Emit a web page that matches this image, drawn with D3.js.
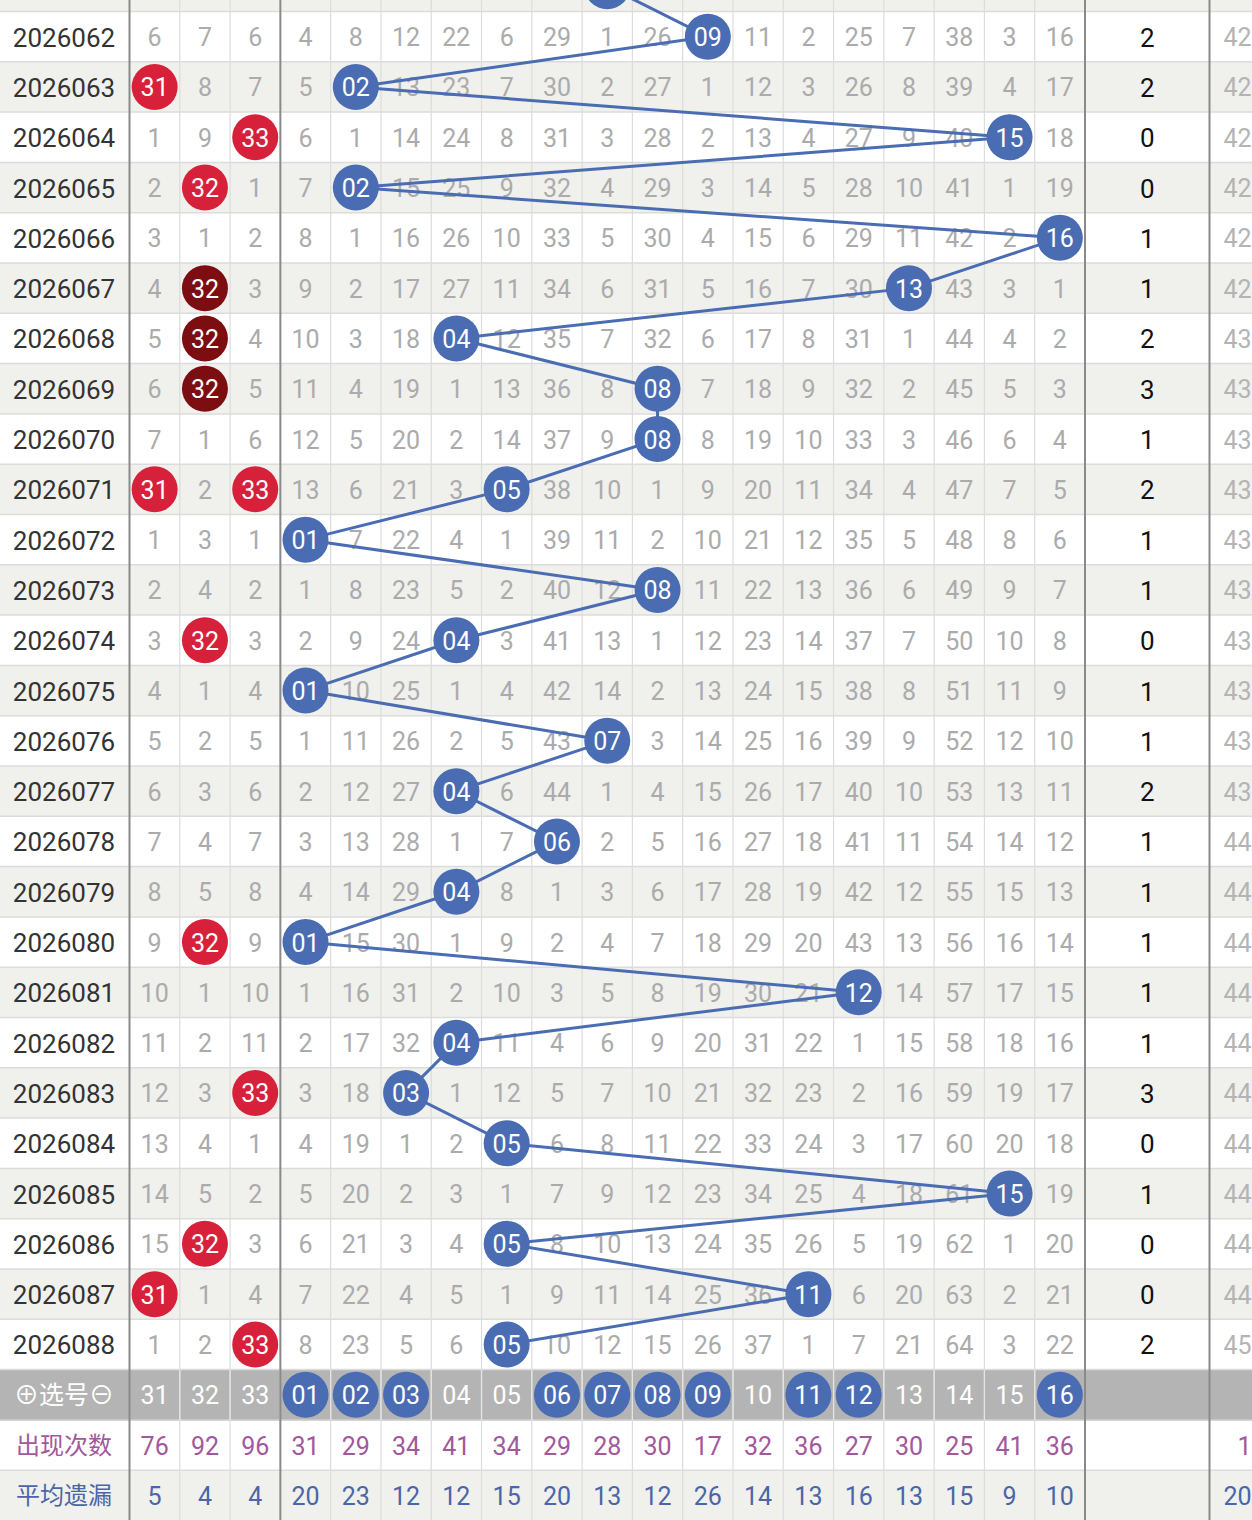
<!DOCTYPE html>
<html lang="zh">
<head>
  <meta charset="UTF-8">
  <title>走势图</title>
  <script src="https://d3js.org/d3.v7.min.js"></script>
  <style>
    html, body { margin: 0; padding: 0; background: #fff; }
    svg { display: block; }
    text { font-family: Roboto, "Noto Sans CJK SC", sans-serif; }
  </style>
</head>
<body>
  <div id="chart"></div>
  <script>
    // 期号（第一行只露出底部一点）
    const periods = ["2026061", "2026062", "2026063", "2026064", "2026065", "2026066", "2026067",
      "2026068", "2026069", "2026070", "2026071", "2026072", "2026073", "2026074", "2026075",
      "2026076", "2026077", "2026078", "2026079", "2026080", "2026081", "2026082", "2026083",
      "2026084", "2026085", "2026086", "2026087", "2026088"];

    const redCols = ["31", "32", "33"];
    const blueCols = ["01", "02", "03", "04", "05", "06", "07", "08", "09", "10", "11", "12", "13", "14", "15", "16"];

    // 遗漏值: 31 32 33 | 01..16, 0 = 开出
    const missRows = [
      [null, null, null, null, null, null, null, null, null, 0, null, null, null, null, null, null, null, null, null],
      [6, 7, 6, 4, 8, 12, 22, 6, 29, 1, 26, 0, 11, 2, 25, 7, 38, 3, 16],
      [0, 8, 7, 5, 0, 13, 23, 7, 30, 2, 27, 1, 12, 3, 26, 8, 39, 4, 17],
      [1, 9, 0, 6, 1, 14, 24, 8, 31, 3, 28, 2, 13, 4, 27, 9, 40, 0, 18],
      [2, 0, 1, 7, 0, 15, 25, 9, 32, 4, 29, 3, 14, 5, 28, 10, 41, 1, 19],
      [3, 1, 2, 8, 1, 16, 26, 10, 33, 5, 30, 4, 15, 6, 29, 11, 42, 2, 0],
      [4, 0, 3, 9, 2, 17, 27, 11, 34, 6, 31, 5, 16, 7, 30, 0, 43, 3, 1],
      [5, 0, 4, 10, 3, 18, 0, 12, 35, 7, 32, 6, 17, 8, 31, 1, 44, 4, 2],
      [6, 0, 5, 11, 4, 19, 1, 13, 36, 8, 0, 7, 18, 9, 32, 2, 45, 5, 3],
      [7, 1, 6, 12, 5, 20, 2, 14, 37, 9, 0, 8, 19, 10, 33, 3, 46, 6, 4],
      [0, 2, 0, 13, 6, 21, 3, 0, 38, 10, 1, 9, 20, 11, 34, 4, 47, 7, 5],
      [1, 3, 1, 0, 7, 22, 4, 1, 39, 11, 2, 10, 21, 12, 35, 5, 48, 8, 6],
      [2, 4, 2, 1, 8, 23, 5, 2, 40, 12, 0, 11, 22, 13, 36, 6, 49, 9, 7],
      [3, 0, 3, 2, 9, 24, 0, 3, 41, 13, 1, 12, 23, 14, 37, 7, 50, 10, 8],
      [4, 1, 4, 0, 10, 25, 1, 4, 42, 14, 2, 13, 24, 15, 38, 8, 51, 11, 9],
      [5, 2, 5, 1, 11, 26, 2, 5, 43, 0, 3, 14, 25, 16, 39, 9, 52, 12, 10],
      [6, 3, 6, 2, 12, 27, 0, 6, 44, 1, 4, 15, 26, 17, 40, 10, 53, 13, 11],
      [7, 4, 7, 3, 13, 28, 1, 7, 0, 2, 5, 16, 27, 18, 41, 11, 54, 14, 12],
      [8, 5, 8, 4, 14, 29, 0, 8, 1, 3, 6, 17, 28, 19, 42, 12, 55, 15, 13],
      [9, 0, 9, 0, 15, 30, 1, 9, 2, 4, 7, 18, 29, 20, 43, 13, 56, 16, 14],
      [10, 1, 10, 1, 16, 31, 2, 10, 3, 5, 8, 19, 30, 21, 0, 14, 57, 17, 15],
      [11, 2, 11, 2, 17, 32, 0, 11, 4, 6, 9, 20, 31, 22, 1, 15, 58, 18, 16],
      [12, 3, 0, 3, 18, 0, 1, 12, 5, 7, 10, 21, 32, 23, 2, 16, 59, 19, 17],
      [13, 4, 1, 4, 19, 1, 2, 0, 6, 8, 11, 22, 33, 24, 3, 17, 60, 20, 18],
      [14, 5, 2, 5, 20, 2, 3, 1, 7, 9, 12, 23, 34, 25, 4, 18, 61, 0, 19],
      [15, 0, 3, 6, 21, 3, 4, 0, 8, 10, 13, 24, 35, 26, 5, 19, 62, 1, 20],
      [0, 1, 4, 7, 22, 4, 5, 1, 9, 11, 14, 25, 36, 0, 6, 20, 63, 2, 21],
      [1, 2, 0, 8, 23, 5, 6, 0, 10, 12, 15, 26, 37, 1, 7, 21, 64, 3, 22]
    ];

    // 连出的红球（深色）
    const darkHits = [["2026067", "32"], ["2026068", "32"], ["2026069", "32"]];

    const repeatCount = [null, 2, 2, 0, 0, 1, 1, 2, 3, 1, 2, 1, 1, 0, 1, 1, 2, 1, 1, 1, 1, 1, 3, 0, 1, 0, 0, 2];
    const rightCol = [null, "42", "42", "42", "42", "42", "42", "43", "43", "43", "43", "43", "43", "43",
      "43", "43", "43", "44", "44", "44", "44", "44", "44", "44", "44", "44", "44", "45"];

    const selectedBlue = ["01", "02", "03", "06", "07", "08", "09", "11", "12", "16"];
    const hitCounts = [76, 92, 96, 31, 29, 34, 41, 34, 29, 28, 30, 17, 32, 36, 27, 30, 25, 41, 36];
    const avgMiss = [5, 4, 4, 20, 23, 12, 12, 15, 20, 13, 12, 26, 14, 13, 16, 13, 15, 9, 10];
    const footRight = { count: "1", avg: "20" };

    const W = 1252, H = 1520;
    const RED = "#d7213a", DARK = "#7c0e12", BLUE = "#4a6cb2";
    const STRIPE = "#f0f0ed", GRID = "#dcdcdc", SEP = "#8a8a8a";

    const allCols = redCols.concat(blueCols);
    const footKeys = ["select", "count", "avg"];
    const rowKeys = periods.concat(footKeys);

    const x = d3.scaleBand().domain(allCols).range([129.5, 1085]);
    const y = d3.scaleBand().domain(rowKeys).range([-38.8, 1520.5]);
    const bw = x.bandwidth(), bh = y.bandwidth();
    const cx = c => x(c) + bw / 2;
    const cy = k => y(k) + bh / 2;
    const ty = k => cy(k) + 1; // 文字略下移
    const visible = k => cy(k) > 0; // 顶部被截掉的行不写字
    const midX = [1085, 1209.5], rightX = [1209.5, 1300];
    const r = 23;

    const svg = d3.select("#chart").append("svg")
      .attr("width", W).attr("height", H);

    // 行底色
    svg.append("g").selectAll("rect")
      .data(rowKeys)
      .join("rect")
      .attr("x", 0).attr("y", d => y(d))
      .attr("width", W).attr("height", bh)
      .attr("fill", (d, i) => d === "select" ? "#b4b4b4" : (i % 2 === 0 ? STRIPE : "#fff"));

    // 网格线
    const grid = svg.append("g");
    grid.selectAll("line.h")
      .data(rowKeys)
      .join("line")
      .attr("x1", 0).attr("x2", W)
      .attr("y1", d => y(d)).attr("y2", d => y(d))
      .attr("stroke", d => d === "count" ? "#c8c8c8" : GRID).attr("stroke-width", 1.5);
    grid.selectAll("line.v")
      .data(allCols.slice(1))
      .join("line")
      .attr("x1", d => x(d)).attr("x2", d => x(d))
      .attr("y1", 0).attr("y2", H)
      .attr("stroke", GRID).attr("stroke-width", 1.2);
    grid.selectAll("line.vs")
      .data(allCols.slice(1))
      .join("line")
      .attr("x1", d => x(d)).attr("x2", d => x(d))
      .attr("y1", y("select")).attr("y2", y("select") + bh)
      .attr("stroke", "#e4e4e4").attr("stroke-width", 1.2);

    // 分隔线
    svg.append("g").selectAll("line")
      .data([129.5, x("01"), midX[0], midX[1]])
      .join("line")
      .attr("x1", d => d).attr("x2", d => d)
      .attr("y1", 0).attr("y2", H)
      .attr("stroke", SEP).attr("stroke-width", 2);

    // 期号
    svg.append("g").selectAll("text")
      .data(periods.filter(visible))
      .join("text")
      .attr("x", 64).attr("y", d => ty(d))
      .attr("text-anchor", "middle").attr("dominant-baseline", "central")
      .attr("font-size", 26).attr("fill", "#333")
      .text(d => d);

    // 遗漏值
    const cells = [];
    missRows.forEach((row, i) => {
      row.forEach((v, j) => {
        cells.push({ period: periods[i], col: allCols[j], v, red: j < 3 });
      });
    });
    svg.append("g").selectAll("text")
      .data(cells.filter(d => d.v !== null && d.v !== 0 && visible(d.period)))
      .join("text")
      .attr("x", d => cx(d.col)).attr("y", d => ty(d.period))
      .attr("text-anchor", "middle").attr("dominant-baseline", "central")
      .attr("font-size", 25).attr("fill", "#ababab")
      .text(d => d.v);

    // 右侧两列
    svg.append("g").selectAll("text")
      .data(periods.map((p, i) => ({ p, v: repeatCount[i] })).filter(d => d.v !== null))
      .join("text")
      .attr("x", (midX[0] + midX[1]) / 2).attr("y", d => ty(d.p))
      .attr("text-anchor", "middle").attr("dominant-baseline", "central")
      .attr("font-size", 26).attr("fill", "#111")
      .text(d => d.v);
    svg.append("g").selectAll("text")
      .data(periods.map((p, i) => ({ p, v: rightCol[i] })).filter(d => d.v !== null))
      .join("text")
      .attr("x", rightX[0] + 14).attr("y", d => ty(d.p))
      .attr("dominant-baseline", "central")
      .attr("font-size", 25).attr("fill", "#b4b4b4")
      .text(d => d.v);

    // 蓝球走势线
    const hits = cells.filter(d => d.v === 0);
    const blueHits = hits.filter(d => !d.red);
    svg.append("path")
      .datum(blueHits)
      .attr("fill", "none")
      .attr("stroke", BLUE).attr("stroke-width", 3)
      .attr("d", d3.line().x(d => cx(d.col)).y(d => cy(d.period)));

    // 球
    const isDark = d => darkHits.some(h => h[0] === d.period && h[1] === d.col);
    const balls = svg.append("g").selectAll("g")
      .data(hits)
      .join("g")
      .attr("transform", d => `translate(${cx(d.col)},${cy(d.period)})`);
    balls.append("circle")
      .attr("r", r)
      .attr("fill", d => d.red ? (isDark(d) ? DARK : RED) : BLUE);
    balls.filter(d => visible(d.period)).append("text")
      .attr("y", 1)
      .attr("text-anchor", "middle").attr("dominant-baseline", "central")
      .attr("font-size", 25).attr("fill", "#fff")
      .text(d => d.col);

    // 底部：选号
    const foot = svg.append("g");
    foot.append("text")
      .attr("x", 64).attr("y", ty("select"))
      .attr("text-anchor", "middle").attr("dominant-baseline", "central")
      .attr("font-size", 25).attr("fill", "#fff")
      .text("⊕选号⊖");
    const selG = foot.selectAll("g.sel")
      .data(allCols)
      .join("g")
      .attr("transform", d => `translate(${cx(d)},${cy("select")})`);
    selG.filter(d => selectedBlue.includes(d))
      .append("circle").attr("r", r).attr("fill", BLUE);
    selG.append("text")
      .attr("y", 1)
      .attr("text-anchor", "middle").attr("dominant-baseline", "central")
      .attr("font-size", 25).attr("fill", "#fff")
      .text(d => d);

    // 出现次数 / 平均遗漏
    const footRows = [
      { key: "count", label: "出现次数", vals: hitCounts, color: "#a2589c", right: footRight.count },
      { key: "avg", label: "平均遗漏", vals: avgMiss, color: "#4a66a8", right: footRight.avg }
    ];
    footRows.forEach(f => {
      foot.append("text")
        .attr("x", 64).attr("y", ty(f.key))
        .attr("text-anchor", "middle").attr("dominant-baseline", "central")
        .attr("font-family", "'Noto Sans CJK SC', sans-serif")
        .attr("font-size", 24).attr("fill", f.color)
        .text(f.label);
      foot.selectAll(null)
        .data(f.vals)
        .join("text")
        .attr("x", (d, i) => cx(allCols[i])).attr("y", ty(f.key))
        .attr("text-anchor", "middle").attr("dominant-baseline", "central")
        .attr("font-size", 25).attr("fill", f.color)
        .text(d => d);
      foot.append("text")
        .attr("x", f.key === "count" ? rightX[0] + 28 : rightX[0] + 14).attr("y", ty(f.key))
        .attr("dominant-baseline", "central")
        .attr("font-size", 25).attr("fill", f.color)
        .text(f.right);
    });
  </script>
</body>
</html>
